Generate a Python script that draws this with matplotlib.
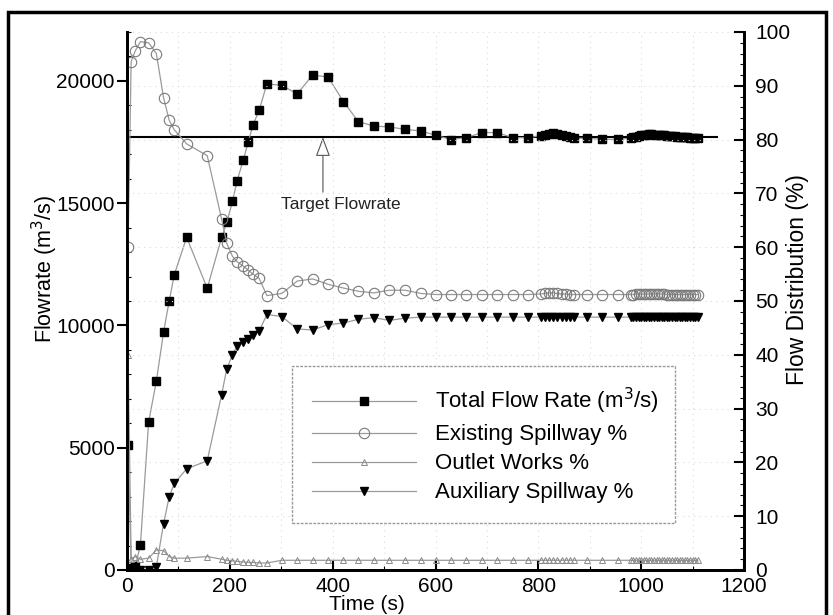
import matplotlib
matplotlib.use('Agg')
import matplotlib.pyplot as plt
from matplotlib.patches import Rectangle
from matplotlib.ticker import MultipleLocator

plt.rcParams['font.family'] = ['Liberation Sans', 'DejaVu Sans']

# ---------------- data ----------------
time_s = [2, 8, 16, 26, 42, 57, 71, 82, 92, 116,
          156, 184, 194, 205, 214, 226, 236, 245, 257, 272,
          301, 331, 361, 391, 421, 450, 480, 510, 541, 571,
          601, 630, 660, 690, 720, 750, 780,
          805, 813, 821, 829, 837, 845, 853, 861, 869,
          895, 924, 955,
          980, 985, 990, 995, 1000, 1005, 1010, 1015, 1020, 1025,
          1030, 1035, 1040, 1045, 1050, 1055, 1060, 1065, 1070, 1075,
          1080, 1085, 1090, 1095, 1100, 1105, 1110]

total_flow = [5100, 100, 150, 1020, 6050, 7720, 9720, 11000, 12080, 13600,
              11520, 13600, 14210, 15070, 15910, 16760, 17520, 18200, 18800, 19880,
              19815, 19470, 20240, 20155, 19150, 18330, 18155, 18115, 18020, 17950,
              17775, 17600, 17680, 17885, 17885, 17680, 17680,
              17760, 17800, 17840, 17860, 17830, 17790, 17740, 17700, 17660,
              17650, 17610, 17610,
              17660, 17690, 17720, 17750, 17770, 17790, 17800, 17810, 17810, 17800,
              17800, 17790, 17780, 17770, 17760, 17750, 17740, 17730, 17720, 17710,
              17700, 17690, 17690, 17680, 17680, 17670, 17670]

existing_pct = [60.0, 94.5, 96.5, 98.2, 98.0, 96.0, 87.8, 83.6, 81.8, 79.2,
                77.0, 65.2, 60.7, 58.3, 57.3, 56.5, 55.7, 55.0, 54.2, 51.0,
                51.4, 53.7, 54.1, 53.1, 52.4, 51.8, 51.5, 52.0, 52.0, 51.4,
                51.2, 51.2, 51.2, 51.2, 51.2, 51.2, 51.2,
                51.3, 51.4, 51.5, 51.5, 51.4, 51.3, 51.3, 51.2, 51.2,
                51.2, 51.2, 51.2,
                51.2, 51.2, 51.3, 51.3, 51.3, 51.3, 51.3, 51.3, 51.3, 51.3,
                51.3, 51.3, 51.3, 51.3, 51.2, 51.2, 51.2, 51.2, 51.2, 51.2,
                51.2, 51.2, 51.2, 51.2, 51.2, 51.2, 51.2]

outlet_pct = [40.0, 2.0, 2.5, 2.0, 2.2, 3.7, 3.6, 2.5, 2.2, 2.2,
              2.5, 2.0, 1.8, 1.7, 1.6, 1.5, 1.4, 1.4, 1.3, 1.3,
              1.8, 1.8, 1.8, 1.8, 1.8, 1.8, 1.8, 1.8, 1.8, 1.8,
              1.8, 1.8, 1.8, 1.8, 1.8, 1.8, 1.8,
              1.8, 1.8, 1.8, 1.8, 1.8, 1.8, 1.8, 1.8, 1.8,
              1.8, 1.8, 1.8,
              1.8, 1.8, 1.8, 1.8, 1.8, 1.8, 1.8, 1.8, 1.8, 1.8,
              1.8, 1.8, 1.8, 1.8, 1.8, 1.8, 1.8, 1.8, 1.8, 1.8,
              1.8, 1.8, 1.8, 1.8, 1.8, 1.8, 1.8]

auxiliary_pct = [0.0, 0.0, 0.0, 0.0, 0.0, 0.6, 8.6, 13.6, 16.1, 18.8,
                 20.3, 32.6, 37.4, 40.0, 41.6, 42.3, 43.0, 43.6, 44.4, 47.5,
                 47.1, 44.8, 44.6, 45.6, 45.9, 46.6, 46.9, 46.4, 46.8, 47.0,
                 47.0, 47.0, 47.0, 47.0, 47.0, 47.0, 47.0,
                 47.0, 47.0, 47.0, 47.0, 47.0, 47.0, 47.0, 47.0, 47.0,
                 47.0, 47.0, 47.0,
                 47.0, 47.0, 47.0, 47.0, 47.0, 47.0, 47.0, 47.0, 47.0, 47.0,
                 47.0, 47.0, 47.0, 47.0, 47.0, 47.0, 47.0, 47.0, 47.0, 47.0,
                 47.0, 47.0, 47.0, 47.0, 47.0, 47.0, 47.0]

target_flow = 17700
target_end_time = 1150
target_arrow_time = 381
target_label = 'Target Flowrate'

x_ticks = [0, 200, 400, 600, 800, 1000, 1200]
left_ticks = [0, 5000, 10000, 15000, 20000]
right_ticks = [0, 10, 20, 30, 40, 50, 60, 70, 80, 90, 100]

labels = ['Total Flow Rate (m$^3$/s)', 'Existing Spillway %',
          'Outlet Works %', 'Auxiliary Spillway %']

# ---------------- figure ----------------
fig = plt.figure(figsize=(8.33, 6.15), dpi=100)
ax = fig.add_axes([0.1525, 0.0732, 0.7407, 0.8748])
ax2 = ax.twinx()

line_col = '#9a9a9a'
lw = 0.9

ax.set_xlim(0, 1200)
ax.set_ylim(0, 22000)
ax2.set_ylim(0, 100)

# grid (faint dotted)
grid_col = '#d4dce4'
ax.set_xticks(x_ticks)
ax.xaxis.set_minor_locator(MultipleLocator(100))
ax.grid(axis='x', which='both', color=grid_col, linestyle=(0, (1, 4)), linewidth=0.8)
ax2.set_yticks(right_ticks)
ax2.grid(axis='y', which='major', color=grid_col, linestyle=(0, (1, 4)), linewidth=0.8)
ax2.set_axisbelow(True)
ax.set_axisbelow(True)

# target line
ax.hlines(target_flow, 0, target_end_time, color='black', linewidth=1.5, zorder=2)
ax.annotate('', xy=(target_arrow_time, target_flow), xytext=(target_arrow_time, 15450),
            arrowprops=dict(arrowstyle='-|>,head_length=1.2,head_width=0.45',
                            facecolor='white', edgecolor='#555555', linewidth=0.8,
                            shrinkA=0, shrinkB=0))
ax.text(target_arrow_time + 35, 14950, target_label, ha='center', va='center',
        fontsize=12.5, color='#222222')

# series
h1, = ax.plot(time_s, total_flow, color=line_col, linewidth=lw, marker='s',
              markersize=5.8, markerfacecolor='black', markeredgecolor='black', zorder=3)
h2, = ax2.plot(time_s, existing_pct, color=line_col, linewidth=lw, marker='o',
               markersize=7.5, markerfacecolor='none', markeredgecolor='#7a7a7a',
               markeredgewidth=0.8)
h3, = ax2.plot(time_s, outlet_pct, color=line_col, linewidth=lw, marker='^',
               markersize=5, markerfacecolor='none', markeredgecolor='#8a8a8a',
               markeredgewidth=0.7)
h4, = ax2.plot(time_s, auxiliary_pct, color=line_col, linewidth=lw, marker='v',
               markersize=6.2, markerfacecolor='black', markeredgecolor='black')

# axes styling
for a in (ax, ax2):
    for s in a.spines.values():
        s.set_linewidth(2.0)
    a.spines['top'].set_visible(False)

ax.set_yticks(left_ticks)
ax.yaxis.set_minor_locator(MultipleLocator(1000))
ax2.yaxis.set_minor_locator(MultipleLocator(2))

ax.tick_params(axis='y', which='major', direction='out', length=7, width=1.5,
               labelsize=15, pad=2)
ax.tick_params(axis='y', which='minor', direction='in', length=3, width=0.8)
ax.tick_params(axis='x', which='major', direction='in', length=7, width=1.5,
               labelsize=15, pad=5)
ax.tick_params(axis='x', which='minor', direction='in', length=3, width=0.8)
ax2.tick_params(axis='y', which='major', direction='in', length=7, width=1.5,
                labelsize=15, pad=8)
ax2.tick_params(axis='y', which='minor', direction='in', length=3, width=0.8)

ax.set_xlabel('Time (s)', fontsize=15)
ax.xaxis.set_label_coords(0.389, -0.046)
ax.set_ylabel('Flowrate (m$^3$/s)', fontsize=15.5)
ax.yaxis.set_label_coords(-0.108, 0.56)
ax2.set_ylabel('Flow Distribution (%)', fontsize=16.5)
ax2.yaxis.set_label_coords(1.068, 0.539)

# legend
leg = ax2.legend([h1, h2, h3, h4], labels, loc='upper left',
                 bbox_to_anchor=(0.267, 0.0985, 0.621, 0.2805), mode='expand',
                 fontsize=16, handlelength=4.7, handletextpad=0.85,
                 labelspacing=0.36, borderpad=0.9, borderaxespad=0,
                 fancybox=False, framealpha=1, facecolor='white')
leg.get_frame().set_edgecolor('#9a9a9a')
leg.get_frame().set_linewidth(1.0)
leg.get_frame().set_linestyle((0, (2, 1)))

# outer frame of the figure
fig.patches.append(Rectangle((8 / 833, -0.05), (826 - 8) / 833, 1.05 - 12 / 615,
                             transform=fig.transFigure, fill=False,
                             edgecolor='black', linewidth=2.5))

fig.savefig('out.png', dpi=100)
